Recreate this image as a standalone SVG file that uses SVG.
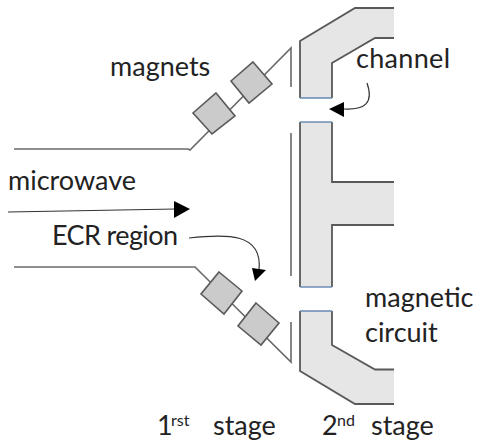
<svg xmlns="http://www.w3.org/2000/svg" width="477" height="445" viewBox="0 0 477 445">
<style>
.w{fill:none;stroke:#6a6a6a;stroke-width:1.6}
.p{fill:#e6e6e6;stroke:none}
.e{fill:none;stroke:#595959;stroke-width:1.8}
.b{fill:none;stroke:#6f8fb8;stroke-width:1.6}
.m{fill:#cbcbcb;stroke:#5a5a5a;stroke-width:1.6}
.c{fill:none;stroke:#333;stroke-width:1.2}
.h{fill:#000;stroke:none}
text{font-family:Lato,"Open Sans","Liberation Sans",sans-serif;font-size:27px;fill:#222}
.s{font-size:16px}
</style>
<g id="connectors">
<path class="w" d="M14 149H188L190 150L291 48V87"/>
<path class="w" d="M291 133V276"/>
<path class="w" d="M14 267H195L291 362V322"/>
<path class="c" d="M8 212L176 209"/>
<polygon class="h" points="190,209 174,201 174,218"/>
<path class="c" d="M367 83C374 103 365 110 344 109"/>
<polygon class="h" points="329,109 344,102 344,117"/>
<path class="c" d="M189 238C225 234 263 232 259 270"/>
<polygon class="h" points="255,281 252,268 266,270"/>
</g>
<g id="magnetic-circuit-top">
<polygon class="p" points="300,41 355,8 394,8 394,38 375,38 332,63 332,98 300,98"/>
<path class="e" d="M394 8H355L300 41V98M394 38H375L332 63V98"/>
<path class="b" d="M300 98H332"/>
</g>
<g id="magnetic-circuit-middle">
<polygon class="p" points="300,122 332,122 332,182 394,182 394,225 332,225 332,287 300,287"/>
<path class="e" d="M300 122V287M332 122V182H394M394 225H332V287"/>
<path class="b" d="M300 122H332M300 287H332"/>
</g>
<g id="magnetic-circuit-bottom">
<polygon class="p" points="300,311 332,311 332,345 375,369.5 394,369.5 394,404 355,404 300,371"/>
<path class="e" d="M300 311V371L355 404H394M332 311V345L375 369.5H394"/>
<path class="b" d="M300 311H332"/>
</g>
<g id="magnet-1"><polygon class="m" points="253,62 272,84 249,103 231,81"/></g>
<g id="magnet-2"><polygon class="m" points="216,93 235,116 212,134 193,113"/></g>
<g id="magnet-3"><polygon class="m" points="219,272 242,291 224,314 201,294"/></g>
<g id="magnet-4"><polygon class="m" points="256,303 279,323 261,345 238,326"/></g>
<g id="labels">
<text x="110" y="76">magnets</text>
<text x="356" y="68" textLength="94">channel</text>
<text x="8" y="190">microwave</text>
<text x="52" y="245" textLength="126">ECR region</text>
<text x="365" y="307">magnetic</text>
<text x="365" y="342">circuit</text>
<text x="157" y="435">1</text><text class="s" x="171" y="426">rst</text>
<text x="213" y="435">stage</text>
<text x="322" y="435">2</text><text class="s" x="337" y="426">nd</text>
<text x="371" y="435">stage</text>
</g>
</svg>
